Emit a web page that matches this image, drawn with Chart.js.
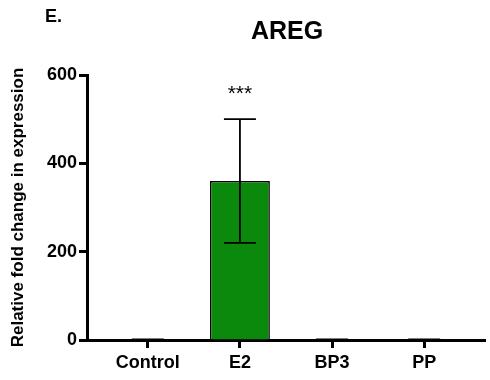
<!DOCTYPE html>
<html>
<head>
<meta charset="utf-8">
<script src="https://cdn.jsdelivr.net/npm/chart.js@4"></script>
<style>
  body { margin: 0; background: #fff; }
  #wrap { width: 490px; height: 380px; position: relative; }
</style>
</head>
<body>
<div id="wrap"><canvas id="areg-chart"></canvas></div>
<script>
const categories = ["Control", "E2", "BP3", "PP"];
const means = [1, 360, 1, 1];
const errors = [0.5, 140, 0.5, 0.5];
const stars = ["", "***", "", ""];
const yTicks = [0, 200, 400, 600];

const ctx = document.getElementById("areg-chart");
const font = "'Liberation Sans', Arial, sans-serif";

// error bars + asterisks + panel letter + title
const extras = {
  id: "extras",
  afterDatasetsDraw(chart) {
    const c = chart.ctx;
    const xs = chart.scales.x;
    const ys = chart.scales.y;
    c.save();
    c.strokeStyle = "#000";
    c.lineWidth = 1.8;
    means.forEach((m, i) => {
      const x = xs.getPixelForValue(i);
      const top = ys.getPixelForValue(m + errors[i]);
      const bot = ys.getPixelForValue(Math.max(0, m - errors[i]));
      c.beginPath();
      c.moveTo(x, top);
      c.lineTo(x, bot);
      c.moveTo(x - 16, top);
      c.lineTo(x + 16, top);
      c.moveTo(x - 16, bot);
      c.lineTo(x + 16, bot);
      c.stroke();
      if (stars[i]) {
        c.fillStyle = "#000";
        c.font = "21px " + font;
        c.textAlign = "center";
        c.textBaseline = "middle";
        c.fillText(stars[i], x, top - 25);
      }
    });
    c.fillStyle = "#000";
    c.textAlign = "left";
    c.textBaseline = "middle";
    c.font = "bold 18px " + font;
    c.fillText("E.", 45, 17);
    c.textAlign = "center";
    c.font = "bold 25px " + font;
    c.fillText("AREG", 287, 32);
    c.restore();
  },
};

new Chart(ctx, {
  type: "bar",
  data: {
    datasets: [
      {
        data: means.map((v, i) => ({ x: i, y: v })),
        backgroundColor: "#0a890c",
        borderColor: "#000",
        borderWidth: 1.5,
        barPercentage: 0.65,
        categoryPercentage: 1,
      },
    ],
  },
  options: {
    responsive: true,
    maintainAspectRatio: false,
    animation: false,
    layout: { padding: { top: 75, right: 5, left: 0, bottom: 0 } },
    plugins: { legend: { display: false }, tooltip: { enabled: false } },
    scales: {
      x: {
        type: "linear",
        offset: false,
        min: -0.66,
        max: 3.66,
        afterBuildTicks: (s) => {
          s.ticks = categories.map((_, i) => ({ value: i }));
        },
        afterFit: (s) => {
          s.height = 40;
        },
        ticks: {
          callback: (v) => categories[v],
          color: "#000",
          font: { family: font, size: 18, weight: "bold" },
          padding: 4,
          maxRotation: 0,
        },
        grid: {
          display: true,
          offset: false,
          drawOnChartArea: false,
          drawTicks: true,
          tickLength: 8,
          tickWidth: 3,
          tickColor: "#000",
        },
        border: { display: true, width: 3, color: "#000" },
      },
      y: {
        min: 0,
        max: 600,
        afterBuildTicks: (s) => {
          s.ticks = yTicks.map((v) => ({ value: v }));
        },
        afterFit: (s) => {
          s.width = 87;
        },
        ticks: {
          color: "#000",
          font: { family: font, size: 18, weight: "bold" },
          padding: 2,
        },
        grid: {
          display: true,
          drawOnChartArea: false,
          drawTicks: true,
          tickLength: 8,
          tickWidth: 3,
          tickColor: "#000",
        },
        border: { display: true, width: 3, color: "#000" },
        title: {
          display: true,
          text: "Relative fold change in expression",
          color: "#000",
          font: { family: font, size: 17, weight: "bold" },
          padding: { top: 8, bottom: 0 },
        },
      },
    },
  },
  plugins: [extras],
});
</script>
</body>
</html>
